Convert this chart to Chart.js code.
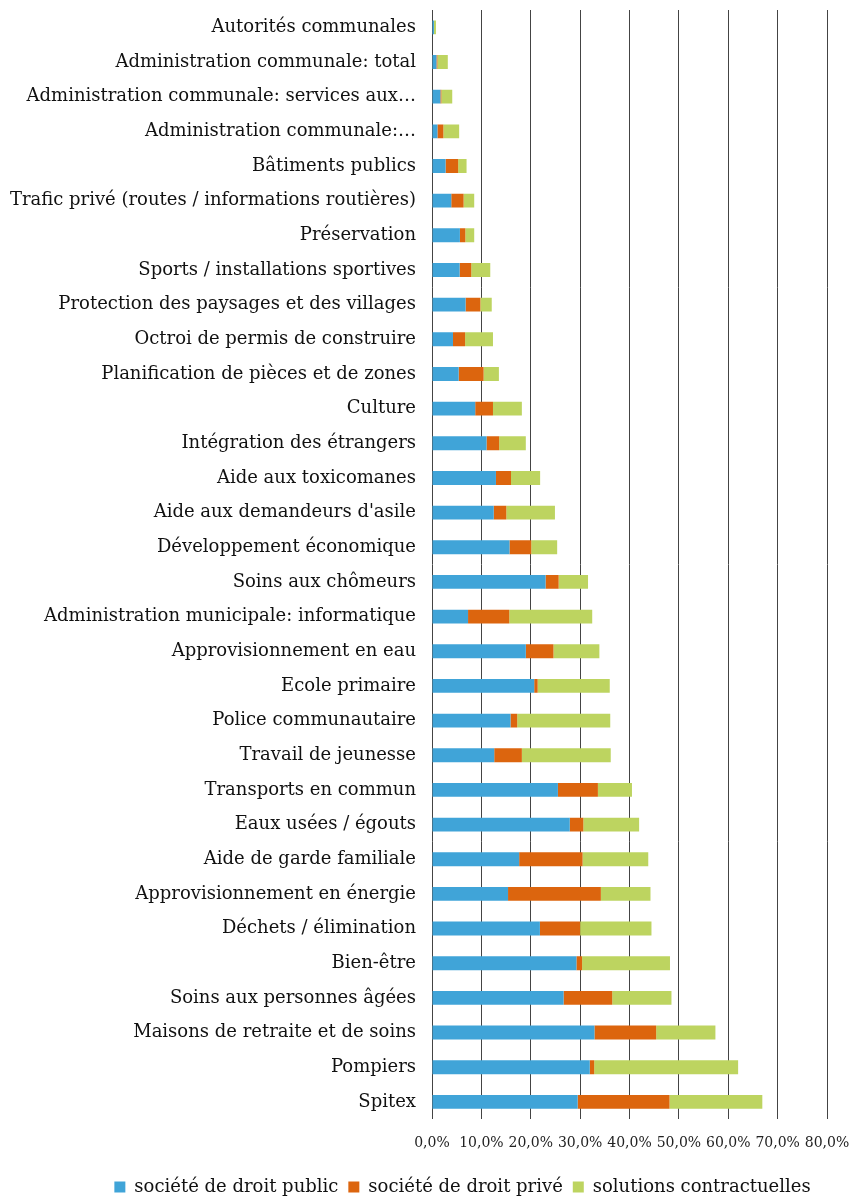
<!DOCTYPE html>
<html>
<head>
<meta charset="utf-8">
<script src="https://cdn.jsdelivr.net/npm/chart.js@4"></script>
<style>
  html, body { margin: 0; padding: 0; background: #fff; }
  #wrap { width: 856px; height: 1197px; position: relative; }
</style>
</head>
<body>
<div id="wrap"><canvas id="myChart"></canvas></div>
<script>
const categories = [
  'Autorités communales',
  'Administration communale: total',
  'Administration communale: services aux…',
  'Administration communale:…',
  'Bâtiments publics',
  'Trafic privé (routes / informations routières)',
  'Préservation',
  'Sports / installations sportives',
  'Protection des paysages et des villages',
  'Octroi de permis de construire',
  'Planification de pièces et de zones',
  'Culture',
  'Intégration des étrangers',
  'Aide aux toxicomanes',
  "Aide aux demandeurs d'asile",
  'Développement économique',
  'Soins aux chômeurs',
  'Administration municipale: informatique',
  'Approvisionnement en eau',
  'Ecole primaire',
  'Police communautaire',
  'Travail de jeunesse',
  'Transports en commun',
  'Eaux usées / égouts',
  'Aide de garde familiale',
  'Approvisionnement en énergie',
  'Déchets / élimination',
  'Bien-être',
  'Soins aux personnes âgées',
  'Maisons de retraite et de soins',
  'Pompiers',
  'Spitex'
];

// shares in percent
const publicLaw = [0.4, 0.9, 1.7, 1.1, 2.75, 3.9, 5.65, 5.6, 6.8, 4.25, 5.4, 8.75, 11.05, 12.95, 12.5, 15.7,
  23.0, 7.3, 19.0, 20.7, 15.9, 12.6, 25.5, 27.9, 17.65, 15.4, 21.85, 29.25, 26.65, 32.9, 31.95, 29.5];
const privateLaw = [0, 0.2, 0.2, 1.2, 2.55, 2.5, 1.1, 2.35, 3.0, 2.45, 5.05, 3.6, 2.55, 3.05, 2.55, 4.4,
  2.65, 8.35, 5.6, 0.7, 1.35, 5.6, 8.1, 2.75, 12.85, 18.8, 8.15, 1.15, 9.85, 12.5, 0.9, 18.6];
const contracts = [0.4, 2.1, 2.2, 3.2, 1.7, 2.15, 1.8, 3.85, 2.3, 5.65, 3.1, 5.85, 5.4, 5.9, 9.85, 5.25,
  5.95, 16.8, 9.3, 14.6, 18.85, 18.0, 6.9, 11.3, 13.3, 10.05, 14.45, 17.8, 12.0, 12.0, 29.15, 18.8];

const seriesNames = ['société de droit public', 'société de droit privé', 'solutions contractuelles'];
const seriesColors = ['rgb(64,164,216)', 'rgb(220,101,14)', 'rgb(189,212,96)'];
const xMin = 0, xMax = 80, xStep = 10;

const serif = "'DejaVu Serif', 'Liberation Serif', serif";

const data = {
  labels: categories,
  datasets: [publicLaw, privateLaw, contracts].map((vals, i) => ({
    label: seriesNames[i],
    data: vals,
    backgroundColor: seriesColors[i],
    borderWidth: 0,
    barPercentage: 0.8,
    categoryPercentage: 0.5
  }))
};

// the legend sits a bit right of the canvas centre in the original
const shiftLegend = {
  id: 'shiftLegend',
  afterLayout(chart) {
    const lg = chart.legend;
    if (!lg) return;
    lg.left += 49;
    lg.right += 49;
  }
};

new Chart(document.getElementById('myChart'), {
  type: 'bar',
  data,
  plugins: [shiftLegend],
  options: {
    indexAxis: 'y',
    responsive: true,
    maintainAspectRatio: false,
    animation: false,
    layout: { padding: { top: 10, right: 29, bottom: -9, left: 0 } },
    scales: {
      x: {
        stacked: true,
        min: xMin,
        max: xMax,
        afterFit: s => { s.paddingLeft = 0; s.paddingRight = 0; },
        ticks: {
          stepSize: xStep,
          padding: 16,
          autoSkip: false,
          maxRotation: 0,
          minRotation: 0,
          color: '#222',
          font: { family: serif, size: 14 },
          callback: v => v.toFixed(1).replace('.', ',') + '%'
        },
        grid: { color: '#444', lineWidth: 1, drawTicks: false },
        border: { display: false }
      },
      y: {
        stacked: true,
        afterFit: s => { s.width = 432; s.paddingTop = 0; s.paddingBottom = 0; },
        ticks: {
          padding: 16,
          color: '#111',
          autoSkip: false,
          font: { family: serif, size: 18 }
        },
        grid: { display: false, drawTicks: false },
        border: { display: false }
      }
    },
    plugins: {
      legend: {
        position: 'bottom',
        labels: {
          boxWidth: 11,
          boxHeight: 11,
          padding: 10,
          color: '#111',
          font: { family: serif, size: 18 }
        }
      },
      tooltip: { enabled: false }
    }
  }
});
</script>
</body>
</html>
